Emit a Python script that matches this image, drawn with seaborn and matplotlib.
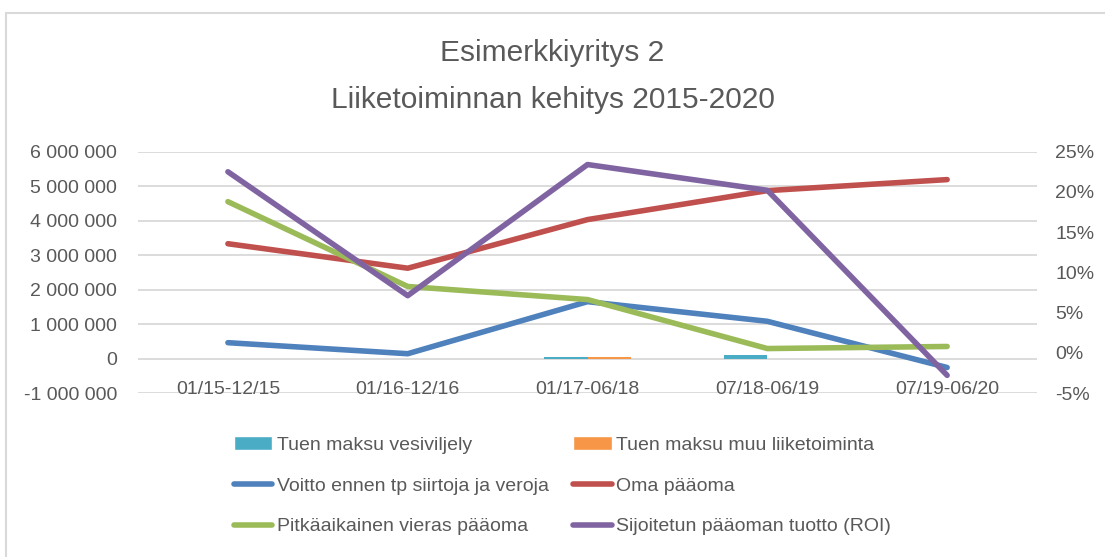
"""Esimerkkiyritys 2 - liiketoiminnan kehitys 2015-2020 (seaborn)."""

import numpy as np
import pandas as pd
import seaborn as sns
import matplotlib.pyplot as plt
from matplotlib.patches import Patch, Rectangle
from matplotlib.lines import Line2D
from matplotlib.ticker import FuncFormatter

# --- data ---
periods = ['01/15-12/15', '01/16-12/16', '01/17-06/18', '07/18-06/19', '07/19-06/20']

tuki_vesiviljely = [0, 0, 45000, 100000, 0]
tuki_muu = [0, 0, 45000, 0, 0]

voitto = [460000, 140000, 1650000, 1080000, -260000]
oma_paaoma = [3330000, 2620000, 4030000, 4870000, 5190000]
pitkaaikainen = [4550000, 2090000, 1710000, 290000, 350000]
roi = [0.225, 0.071, 0.234, 0.202, -0.028]

bar_names = ['Tuen maksu vesiviljely', 'Tuen maksu muu liiketoiminta']
line_names = ['Voitto ennen tp siirtoja ja veroja', 'Oma pääoma',
              'Pitkäaikainen vieras pääoma', 'Sijoitetun pääoman tuotto (ROI)']

colors = {
    'Tuen maksu vesiviljely': '#4BACC6',
    'Tuen maksu muu liiketoiminta': '#F79646',
    'Voitto ennen tp siirtoja ja veroja': '#4F81BD',
    'Oma pääoma': '#C0504D',
    'Pitkäaikainen vieras pääoma': '#9BBB59',
    'Sijoitetun pääoman tuotto (ROI)': '#8064A2',
}

TEXT = '#595959'
GRID = '#d9d9d9'
LW = 4.0


def main():
    sns.set_theme(style='white')
    plt.rcParams['font.family'] = ['Liberation Sans', 'DejaVu Sans']

    bars = pd.DataFrame({
        'Jakso': periods * 2,
        'Sarja': [bar_names[0]] * len(periods) + [bar_names[1]] * len(periods),
        'Arvo': tuki_vesiviljely + tuki_muu,
    })
    lines = pd.DataFrame({
        'pos': np.arange(len(periods)),
        line_names[0]: voitto,
        line_names[1]: oma_paaoma,
        line_names[2]: pitkaaikainen,
    })

    fig = plt.figure(figsize=(11.05, 5.57), dpi=100)
    ax = fig.add_axes([0.1249, 0.2944, 0.8136, 0.4333])

    sns.barplot(data=bars, x='Jakso', y='Arvo', hue='Sarja', order=periods,
                palette=colors, width=0.48, saturation=1, legend=False,
                linewidth=0, ax=ax)

    for name in line_names[:3]:
        sns.lineplot(data=lines, x='pos', y=name, color=colors[name], lw=LW,
                     solid_capstyle='round', ax=ax)

    ax2 = ax.twinx()
    roi_df = pd.DataFrame({'pos': np.arange(len(periods)), 'ROI': roi})
    sns.lineplot(data=roi_df, x='pos', y='ROI', color=colors[line_names[3]],
                 lw=LW, solid_capstyle='round', ax=ax2)

    # axes, grid, ticks
    ax.set_xlim(-0.5, len(periods) - 0.5)
    ax.set_ylim(-1000000, 6000000)
    ax.set_yticks(np.arange(-1000000, 6000001, 1000000))
    ax.yaxis.set_major_formatter(
        FuncFormatter(lambda v, p: f'{int(v):,}'.replace(',', ' ')))
    ax2.set_ylim(-0.05, 0.25)
    ax2.set_yticks(np.arange(-0.05, 0.2501, 0.05))
    ax2.yaxis.set_major_formatter(FuncFormatter(lambda v, p: f'{v * 100:.0f}%'))

    ax.set_xticks([])
    ax.set_xlabel('')
    ax.set_ylabel('')
    ax2.set_xlabel('')
    ax2.set_ylabel('')
    ax.yaxis.grid(True, color=GRID, lw=1.3)
    ax.set_axisbelow(True)
    for a in (ax, ax2):
        for spine in a.spines.values():
            spine.set_visible(False)
        a.tick_params(axis='y', length=0, labelsize=14, labelcolor=TEXT)
    ax.tick_params(axis='y', pad=15)
    ax2.tick_params(axis='y', pad=13)

    # category labels sit just under the zero line, like in Excel
    for i, label in enumerate(periods):
        ax.annotate(label, xy=(i, 0), xytext=(0, -16), textcoords='offset points',
                    ha='center', va='top', fontsize=14, color=TEXT)

    # title
    fig.text(0.5, 0.905, 'Esimerkkiyritys 2', ha='center', va='center',
             fontsize=21.5, color=TEXT)
    fig.text(0.5, 0.82, 'Liiketoiminnan kehitys 2015-2020', ha='center',
             va='center', fontsize=21.5, color=TEXT)

    # legend: two columns, filled column-first
    handles = [
        Patch(facecolor=colors[bar_names[0]], label=bar_names[0]),
        Line2D([], [], color=colors[line_names[0]], lw=LW,
               solid_capstyle='round', label=line_names[0]),
        Line2D([], [], color=colors[line_names[2]], lw=LW,
               solid_capstyle='round', label=line_names[2]),
        Patch(facecolor=colors[bar_names[1]], label=bar_names[1]),
        Line2D([], [], color=colors[line_names[1]], lw=LW,
               solid_capstyle='round', label=line_names[1]),
        Line2D([], [], color=colors[line_names[3]], lw=LW,
               solid_capstyle='round', label=line_names[3]),
    ]
    leg = fig.legend(handles=handles, loc='center', bbox_to_anchor=(0.509, 0.128),
                     ncol=2, frameon=False, fontsize=14, handlelength=2.0,
                     handletextpad=0.25, columnspacing=1.2, labelspacing=1.2)
    for t in leg.get_texts():
        t.set_color(TEXT)

    # chart border
    fig.patches.append(Rectangle((6 / 1105, -0.05), 1.1, 1 - 12.7 / 557 + 0.05,
                                 transform=fig.transFigure, fill=False,
                                 edgecolor=GRID, lw=1.5))

    fig.savefig('out.png', dpi=100, facecolor='white')
    plt.close(fig)


if __name__ == '__main__':
    main()
